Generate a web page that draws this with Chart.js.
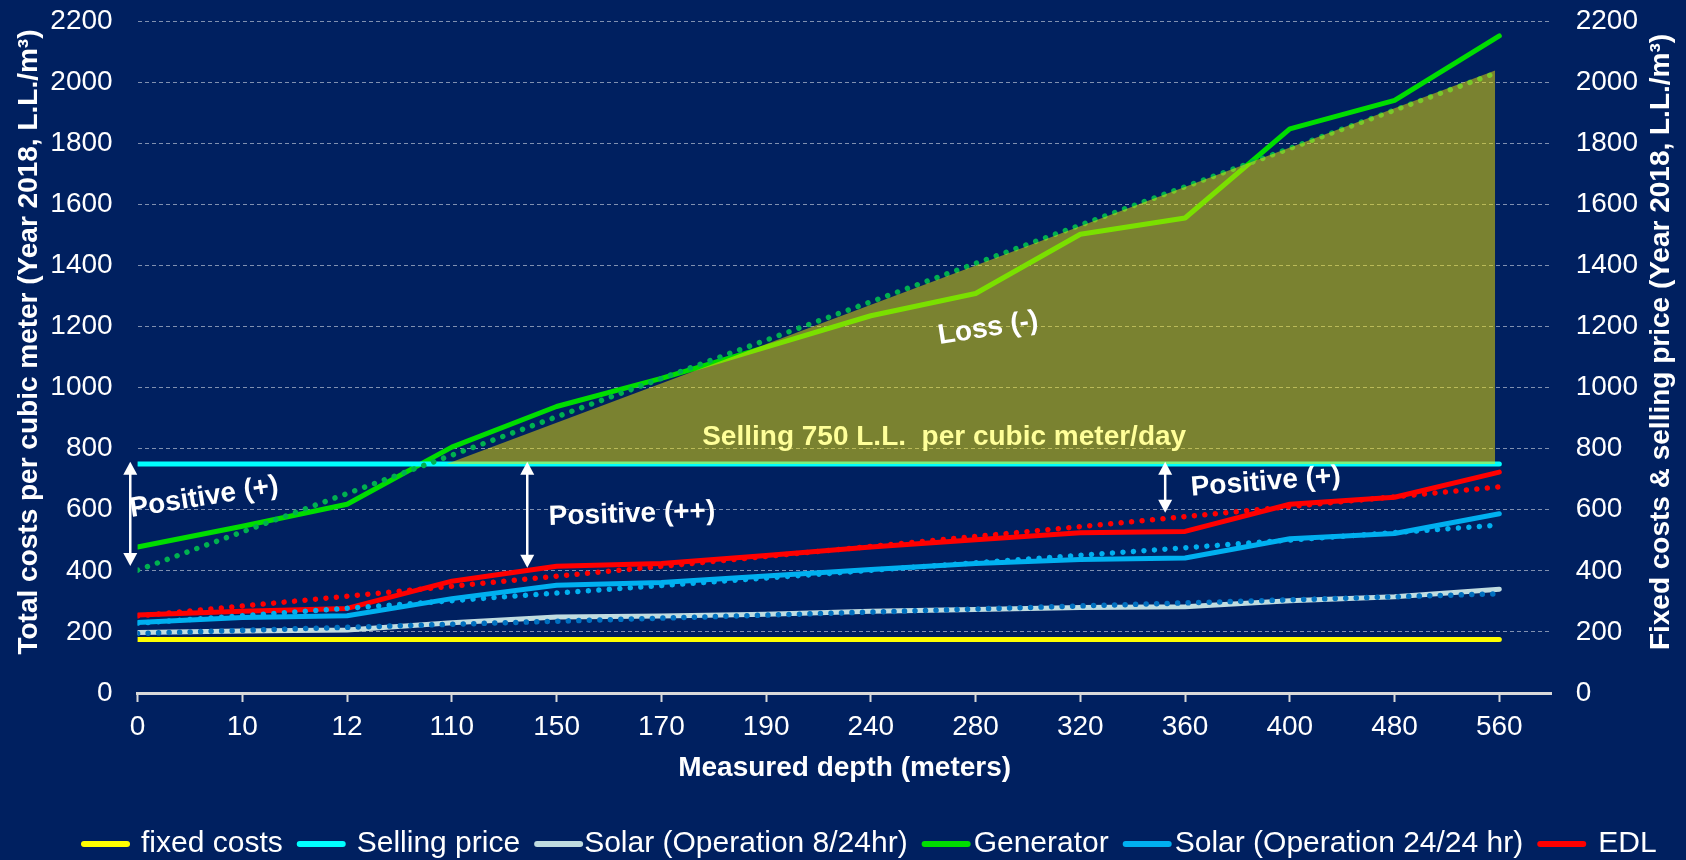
<!DOCTYPE html>
<html>
<head>
<meta charset="utf-8">
<title>Costs per cubic meter vs measured depth</title>
<script src="https://cdn.jsdelivr.net/npm/chart.js@4.4.1/dist/chart.umd.min.js"></script>
<style>
  html, body { margin: 0; padding: 0; background: #002060; }
  #wrap { position: relative; width: 1686px; height: 860px; }
</style>
</head>
<body>
<div id="wrap"><canvas id="costChart"></canvas></div>
<script>
// measured depth categories (meters)
const depthLabels = ['0', '10', '12', '110', '150', '170', '190', '240', '280', '320', '360', '400', '480', '560'];

// costs per cubic meter (L.L.), one value per depth
const fixedCosts   = [175, 175, 175, 175, 175, 175, 175, 175, 175, 175, 175, 175, 175, 175];
const sellingPrice = [750, 750, 750, 750, 750, 750, 750, 750, 750, 750, 750, 750, 750, 750];
const solar8       = [198, 203, 206, 230, 249, 252, 258, 268, 273, 280, 282, 302, 315, 340];
const generator    = [478, 546, 618, 805, 938, 1030, 1132, 1235, 1308, 1502, 1555, 1847, 1940, 2151];
const solar24      = [231, 247, 253, 309, 353, 362, 383, 404, 424, 437, 442, 505, 522, 587];
const edl          = [255, 268, 277, 366, 415, 424, 450, 478, 502, 525, 529, 618, 641, 723];

// dotted trend lines, read at the first and last depth
const trendAt        = [0, 13];
const generatorTrend = [402, 2034];
const edlTrend       = [252, 675];
const solar24Trend   = [228, 550];
const solar8Trend    = [195, 325];

// loss zone upper edge (depth position, cost)
const lossEdgeX = [2.95, 12.96];
const lossEdgeY = [750, 2038];

// y axis ticks
const yMin = 0;
const yMax = 2200;
const yStep = 200;

const FONT = "'Liberation Sans', Arial, sans-serif";

function toPoints(xs, ys) {
    return ys.map((v, i) => ({ x: xs[i], y: v }));
}
const idx = depthLabels.map((d, i) => i);

function seriesLine(label, values, color, order) {
    return {
        label: label,
        data: toPoints(idx, values),
        borderColor: color,
        backgroundColor: color,
        borderWidth: 5,
        borderCapStyle: 'round',
        borderJoinStyle: 'round',
        pointRadius: 0,
        tension: 0,
        fill: false,
        order: order,
        inLegend: true
    };
}

function trendLine(values, color) {
    return {
        label: 'trend',
        data: toPoints(trendAt, values),
        borderColor: color,
        borderWidth: 5.5,
        borderDash: [0.01, 10.5],
        borderCapStyle: 'round',
        pointRadius: 0,
        fill: false,
        order: 1
    };
}

// text and arrow call-outs, in axis units
const notes = [
    { text: 'Selling 750 L.L.  per cubic meter/day', x: 7.7, y: 837, angle: 0, color: '#FFFF99' },
    { text: 'Loss (-)', x: 8.12, y: 1193, angle: -9, color: '#FFFFFF' },
    { text: 'Positive (+)', x: 0.635, y: 640, angle: -9, color: '#FFFFFF' },
    { text: 'Positive (++)', x: 4.72, y: 585, angle: -2, color: '#FFFFFF' },
    { text: 'Positive (+)', x: 10.77, y: 690, angle: -4.5, color: '#FFFFFF' }
];
const arrows = [
    { x: -0.07, from: 757, to: 416 },
    { x: 3.72, from: 757, to: 410 },
    { x: 9.81, from: 757, to: 590 }
];

function drawArrow(ctx, x, yTop, yBottom) {
    const head = 13, half = 7;
    ctx.save();
    ctx.strokeStyle = '#FFFFFF';
    ctx.fillStyle = '#FFFFFF';
    ctx.lineWidth = 2.5;
    ctx.beginPath();
    ctx.moveTo(x, yTop + head - 2);
    ctx.lineTo(x, yBottom - head + 2);
    ctx.stroke();
    ctx.beginPath();
    ctx.moveTo(x, yTop);
    ctx.lineTo(x - half, yTop + head);
    ctx.lineTo(x + half, yTop + head);
    ctx.closePath();
    ctx.fill();
    ctx.beginPath();
    ctx.moveTo(x, yBottom);
    ctx.lineTo(x - half, yBottom - head);
    ctx.lineTo(x + half, yBottom - head);
    ctx.closePath();
    ctx.fill();
    ctx.restore();
}

const calloutPlugin = {
    id: 'callouts',
    afterDatasetsDraw(chart) {
        const ctx = chart.ctx;
        const xs = chart.scales.x, ys = chart.scales.y;
        arrows.forEach(a => {
            drawArrow(ctx, xs.getPixelForValue(a.x), ys.getPixelForValue(a.from), ys.getPixelForValue(a.to));
        });
        notes.forEach(n => {
            ctx.save();
            ctx.translate(xs.getPixelForValue(n.x), ys.getPixelForValue(n.y));
            ctx.rotate(n.angle * Math.PI / 180);
            ctx.font = 'bold 28px ' + FONT;
            ctx.fillStyle = n.color;
            ctx.textAlign = 'center';
            ctx.textBaseline = 'middle';
            ctx.fillText(n.text, 0, 0);
            ctx.restore();
        });
    },
    afterDraw(chart) {
        const ctx = chart.ctx;
        const area = chart.chartArea;
        const midY = (area.top + area.bottom) / 2 - 15;

        // axis titles, both read bottom to top
        const titles = [
            { text: 'Total costs per cubic meter (Year 2018, L.L./m\u00B3)', x: 29 },
            { text: 'Fixed costs & selling price (Year 2018, L.L./m\u00B3)', x: 1661 }
        ];
        titles.forEach(t => {
            ctx.save();
            ctx.translate(t.x, midY);
            ctx.rotate(-Math.PI / 2);
            ctx.font = 'bold 28px ' + FONT;
            ctx.fillStyle = '#FFFFFF';
            ctx.textAlign = 'center';
            ctx.textBaseline = 'middle';
            ctx.fillText(t.text, 0, 0);
            ctx.restore();
        });

        // legend row
        const items = chart.data.datasets.filter(d => d.inLegend);
        const legendOrder = ['fixed costs', 'Selling price', 'Solar (Operation 8/24hr)', 'Generator', 'Solar (Operation 24/24 hr)', 'EDL'];
        const gapAfterMark = [11, 11, 1, 3, 3, 12];
        let lx = 81;
        const ly = 844;
        ctx.save();
        ctx.font = '30px ' + FONT;
        ctx.textBaseline = 'middle';
        ctx.textAlign = 'left';
        legendOrder.forEach((name, i) => {
            const ds = items.find(d => d.label === name);
            ctx.strokeStyle = ds.borderColor;
            ctx.lineWidth = 6;
            ctx.lineCap = 'round';
            ctx.beginPath();
            ctx.moveTo(lx + 3, ly);
            ctx.lineTo(lx + 46, ly);
            ctx.stroke();
            lx += 49 + gapAfterMark[i];
            ctx.fillStyle = '#FFFFFF';
            ctx.fillText(name, lx, ly);
            lx += ctx.measureText(name).width + 14;
        });
        ctx.restore();
    }
};

const datasets = [
    {
        label: 'Loss zone',
        data: toPoints(lossEdgeX, lossEdgeY),
        borderWidth: 0,
        borderColor: 'rgba(0,0,0,0)',
        backgroundColor: 'rgba(244,228,0,0.5)',
        pointRadius: 0,
        fill: { value: 750 },
        order: 0
    },
    trendLine(generatorTrend, '#00B050'),
    trendLine(edlTrend, '#FF0000'),
    trendLine(solar24Trend, '#00B0F0'),
    trendLine(solar8Trend, '#0070C0'),
    seriesLine('fixed costs', fixedCosts, '#FFFF00', 2),
    seriesLine('Selling price', sellingPrice, '#00FFFF', 2),
    seriesLine('Solar (Operation 8/24hr)', solar8, '#C0DCE0', 3),
    seriesLine('Generator', generator, '#00DD00', 3),
    seriesLine('Solar (Operation 24/24 hr)', solar24, '#00B0F0', 3),
    seriesLine('EDL', edl, '#FF0000', 3)
];

function fitY(width) {
    return s => {
        s.width = width;
        s.paddingTop = 0;
        s.paddingBottom = 0;
    };
}

new Chart(document.getElementById('costChart'), {
    type: 'line',
    data: { datasets: datasets },
    options: {
        responsive: true,
        maintainAspectRatio: false,
        animation: false,
        layout: { padding: { top: 21, bottom: 60, left: 0, right: 0 } },
        plugins: {
            legend: { display: false },
            tooltip: { enabled: false }
        },
        scales: {
            x: {
                type: 'linear',
                min: 0,
                max: 13.5,
                afterFit: s => { s.height = 107; },
                ticks: {
                    stepSize: 1,
                    includeBounds: false,
                    autoSkip: false,
                    maxRotation: 0,
                    padding: 8,
                    color: '#FFFFFF',
                    font: { family: FONT, size: 28 },
                    callback: v => depthLabels[v] !== undefined ? depthLabels[v] : ''
                },
                grid: {
                    drawOnChartArea: false,
                    drawTicks: true,
                    tickLength: 9,
                    tickWidth: 2,
                    tickColor: '#D9D9D9',
                    color: '#D9D9D9'
                },
                border: { display: true, color: '#D9D9D9', width: 3 },
                title: {
                    display: true,
                    text: 'Measured depth (meters)',
                    color: '#FFFFFF',
                    font: { family: FONT, size: 28, weight: 'bold' },
                    padding: { top: 0, bottom: 15 }
                }
            },
            y: {
                position: 'left',
                min: yMin,
                max: yMax,
                afterFit: fitY(137.6),
                ticks: {
                    stepSize: yStep,
                    padding: 25,
                    color: '#FFFFFF',
                    font: { family: FONT, size: 28 },
                    callback: v => String(v)
                },
                grid: {
                    drawTicks: false,
                    color: 'rgba(255,255,255,0.5)',
                    lineWidth: 1
                },
                border: { display: false, dash: [4, 3] }
            },
            y2: {
                position: 'right',
                min: yMin,
                max: yMax,
                afterFit: fitY(134.3),
                ticks: {
                    stepSize: yStep,
                    padding: 24,
                    color: '#FFFFFF',
                    font: { family: FONT, size: 28 },
                    callback: v => String(v)
                },
                grid: { display: false, drawTicks: false },
                border: { display: false }
            }
        }
    },
    plugins: [calloutPlugin]
});
</script>
</body>
</html>
